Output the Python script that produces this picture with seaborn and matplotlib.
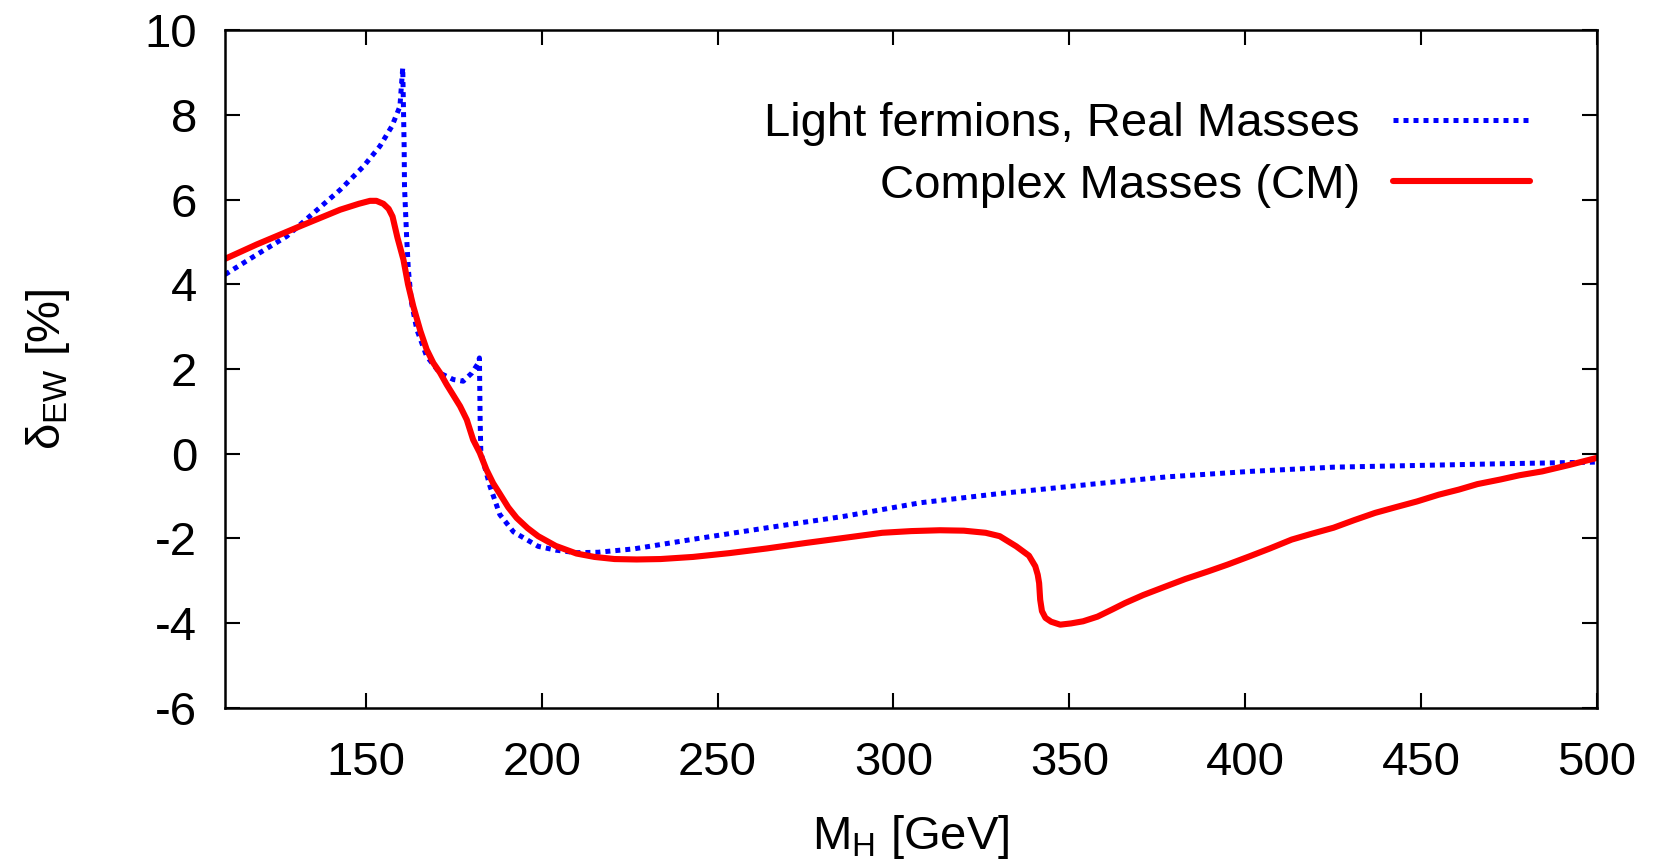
import numpy as np
import pandas as pd
import matplotlib
matplotlib.use("Agg")
import matplotlib.pyplot as plt
import seaborn as sns
from matplotlib.lines import Line2D

# ---- data ----
real_x = [110, 119, 127.5, 135.1, 142.7, 149.3, 154, 157.4, 159.7, 160.5,
          160.9, 161.0, 161.6, 162.1, 163, 164.5, 167.3, 171.1, 174.9, 177.7,
          180.1, 182.0, 182.3, 182.5, 182.7, 185.3, 188.1, 192, 199, 204,
          209.9, 216, 226.2, 242.5, 264.2, 286, 307.7, 329.5, 356.6, 377.6,
          401.4, 425.1, 448.8, 472.6, 500]
real_y = [4.23, 4.70, 5.13, 5.68, 6.23, 6.78, 7.26, 7.73, 8.20, 9.11,
          7.26, 6.31, 5.13, 4.34, 3.56, 2.93, 2.30, 1.90, 1.75, 1.71,
          1.90, 2.14, 2.26, 0.80, 0.02, -0.77, -1.44, -1.85, -2.19, -2.28,
          -2.34, -2.33, -2.25, -2.03, -1.75, -1.48, -1.16, -0.95, -0.72, -0.55,
          -0.42, -0.32, -0.28, -0.24, -0.20]

cm_x = [110, 119, 131.3, 142.7, 148, 151.2, 153, 155, 156.5, 157.6,
        159, 160.7, 162, 163.5, 165.5, 167.3, 169.2, 171.1, 173, 176.8,
        178.7, 180.5, 182.4, 184.3, 186.2, 188.1, 190.5, 192.9, 196, 199,
        204, 209.9, 215, 220.7, 227, 233.8, 243, 253.4, 264, 275.1,
        286, 296.8, 305, 313.2, 320, 326.2, 330.2, 334.9, 338.5, 340.3,
        341.0, 341.4, 341.7, 342.2, 343.2, 344.8, 347.4, 350.5, 353.9, 358,
        362.2, 365.8, 371, 377.6, 383, 389.5, 395, 401.4, 407, 413.2,
        419, 425.1, 431, 436.9, 443, 448.8, 455, 460.7, 466, 472.6,
        478, 484.4, 492, 500]
cm_y = [4.60, 4.94, 5.37, 5.76, 5.90, 5.97, 5.97, 5.90, 5.78, 5.60,
        5.10, 4.58, 4.00, 3.48, 2.90, 2.46, 2.14, 1.91, 1.63, 1.12,
        0.80, 0.33, 0.02, -0.38, -0.70, -0.95, -1.27, -1.52, -1.76, -1.95,
        -2.18, -2.36, -2.44, -2.49, -2.50, -2.49, -2.44, -2.35, -2.24, -2.11,
        -1.99, -1.87, -1.83, -1.81, -1.82, -1.87, -1.95, -2.19, -2.41, -2.66,
        -2.86, -3.06, -3.45, -3.72, -3.88, -3.97, -4.04, -4.01, -3.96, -3.85,
        -3.68, -3.53, -3.34, -3.13, -2.96, -2.78, -2.62, -2.42, -2.24, -2.03,
        -1.89, -1.75, -1.57, -1.40, -1.26, -1.13, -0.97, -0.85, -0.72, -0.61,
        -0.51, -0.42, -0.27, -0.10]

x_ticks = [150, 200, 250, 300, 350, 400, 450, 500]
y_ticks = [-6, -4, -2, 0, 2, 4, 6, 8, 10]
series_names = ["Light fermions, Real Masses", "Complex Masses (CM)"]

df = pd.concat([
    pd.DataFrame({"MH": real_x, "d": real_y, "series": series_names[0]}),
    pd.DataFrame({"MH": cm_x, "d": cm_y, "series": series_names[1]}),
], ignore_index=True)

sns.set_style("ticks")
plt.rcParams["font.family"] = ["Liberation Sans", "DejaVu Sans"]
plt.rcParams["mathtext.fontset"] = "custom"
plt.rcParams["mathtext.rm"] = "Liberation Sans"
plt.rcParams["mathtext.it"] = "Liberation Sans:italic"
plt.rcParams["text.color"] = "black"
plt.rcParams["axes.labelcolor"] = "black"
plt.rcParams["xtick.color"] = "black"
plt.rcParams["ytick.color"] = "black"

fig = plt.figure(figsize=(16.55, 8.63), dpi=100)
ax = fig.add_axes([0.136, 0.180, 0.829, 0.785])

BLUE_DASH = (1.0, 1.0)
sns.lineplot(data=df, x="MH", y="d", hue="series", style="series",
             palette={series_names[0]: "#0000ff", series_names[1]: "#ff0000"},
             dashes={series_names[0]: BLUE_DASH, series_names[1]: ""},
             sort=False, estimator=None, ax=ax, legend=False)
for ln, lw in zip(ax.lines, [3.6, 4.4]):
    ln.set_linewidth(lw)
    ln.set_dash_capstyle("butt")
    ln.set_solid_joinstyle("round")

ax.set_xlim(110, 500)
ax.set_ylim(-6, 10)
ax.set_xticks(x_ticks)
ax.set_yticks(y_ticks)
ax.set_xticklabels([str(t) for t in x_ticks])
ax.set_yticklabels([str(t) for t in y_ticks])
ax.tick_params(direction="in", length=10.5, width=1.5, labelsize=34,
               top=True, right=True, color="black", labelcolor="black")
ax.tick_params(axis="x", pad=24)
ax.tick_params(axis="y", pad=20)
for s in ax.spines.values():
    s.set_linewidth(1.8)
    s.set_color("black")

ax.set_xlabel(r"M$_{\rm H}$ [GeV]", fontsize=34, labelpad=20)
ax.set_ylabel(r"δ$_{\rm EW}$ [%]", fontsize=34, labelpad=52)

handles = [Line2D([], [], color="#0000ff", lw=3.6, linestyle=(0, BLUE_DASH),
                  dash_capstyle="butt"),
           Line2D([], [], color="#ff0000", lw=4.4)]
leg = ax.legend(handles, series_names, loc="center right",
                bbox_to_anchor=(0.9512, 0.816), frameon=False, fontsize=34,
                markerfirst=False, handlelength=2.9, handletextpad=0.7,
                labelspacing=0.37, borderaxespad=0, borderpad=0)

fig.savefig("out.png", dpi=100)
